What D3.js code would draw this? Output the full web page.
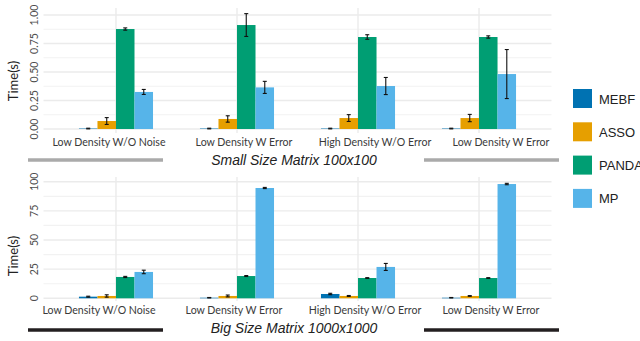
<!DOCTYPE html>
<html><head><meta charset="utf-8">
<script src="https://cdn.jsdelivr.net/npm/d3@7"></script>
<style>body{margin:0;background:#fff}svg{display:block}</style>
</head><body>
<svg id="c" width="640" height="341"></svg>
<script>
const categories = ["Low Density W/O Noise","Low Density W Error","High Density W/O Error","Low Density W Error "];
const series = ["MEBF","ASSO","PANDA","MP"];
const colors = ["#0072B2","#E69F00","#009E73","#56B4E9"];

// Small Size Matrix 100x100
const smallMEBF = [0.004,0.004,0.004,0.004];
const smallMEBFErr = [0.003,0.003,0.003,0.003];
const smallASSO = [0.070,0.088,0.096,0.096];
const smallASSOErr = [0.030,0.028,0.030,0.032];
const smallPANDA = [0.877,0.912,0.807,0.807];
const smallPANDAErr = [0.010,0.100,0.020,0.010];
const smallMP = [0.325,0.365,0.377,0.482];
const smallMPErr = [0.022,0.053,0.075,0.215];

// Big Size Matrix 1000x1000
const bigMEBF = [1.4,0.5,3.7,0.5];
const bigMEBFErr = [0.4,0.2,0.6,0.2];
const bigASSO = [2.0,2.0,2.0,2.0];
const bigASSOErr = [1.0,0.8,0.4,0.3];
const bigPANDA = [18.3,19.1,17.4,17.4];
const bigPANDAErr = [0.5,0.4,0.3,0.3];
const bigMP = [22.6,94.6,26.9,98.0];
const bigMPErr = [1.5,0.5,3.0,0.6];

const smallTicks = [0,0.25,0.5,0.75,1.0];
const smallTickLabels = ["0.00","0.25","0.50","0.75","1.00"];
const bigTicks = [0,25,50,75,100];
const bigTickLabels = ["0","25","50","75","100"];

const svg = d3.select("#c");
const x = d3.scaleBand().domain(categories).range([43.5,551.5]).paddingInner(0.388).paddingOuter(0.293);
const xs = d3.scaleBand().domain(series).range([0,x.bandwidth()]);
const color = d3.scaleOrdinal().domain(series).range(colors);

function panel(cfg){
  const g = svg.append("g");
  const y = d3.scaleLinear().domain(cfg.domain).range(cfg.range);
  const minor = [];
  for(let i=0;i<cfg.ticks.length-1;i++) minor.push((cfg.ticks[i]+cfg.ticks[i+1])/2);
  // grid
  g.selectAll(".mn").data(minor).join("line")
    .attr("x1",43.5).attr("x2",551.5).attr("y1",d=>y(d)).attr("y2",d=>y(d))
    .attr("stroke","#f2f2f2").attr("stroke-width",1.2);
  g.selectAll(".mj").data(cfg.ticks).join("line")
    .attr("x1",43.5).attr("x2",551.5).attr("y1",d=>y(d)).attr("y2",d=>y(d))
    .attr("stroke","#ebebeb").attr("stroke-width",1.4);
  g.selectAll(".vg").data(categories).join("line")
    .attr("x1",d=>x(d)+x.bandwidth()/2).attr("x2",d=>x(d)+x.bandwidth()/2)
    .attr("y1",cfg.top).attr("y2",cfg.bottom)
    .attr("stroke","#ebebeb").attr("stroke-width",1.4);
  // bars
  const rows = [];
  categories.forEach((c,i)=>series.forEach((s,j)=>rows.push({c,s,v:cfg.values[j][i],e:cfg.errors[j][i]})));
  g.selectAll(".bar").data(rows).join("rect")
    .attr("x",d=>x(d.c)+xs(d.s)).attr("width",xs.bandwidth())
    .attr("y",d=>y(d.v)).attr("height",d=>y(0)-y(d.v))
    .attr("fill",d=>color(d.s));
  const eb = g.selectAll(".eb").data(rows).join("g")
    .attr("transform",d=>`translate(${x(d.c)+xs(d.s)+xs.bandwidth()/2},0)`);
  eb.append("line").attr("y1",d=>y(d.v-d.e)).attr("y2",d=>y(d.v+d.e)).attr("stroke","#111").attr("stroke-width",1.1);
  eb.append("line").attr("x1",-2).attr("x2",2).attr("y1",d=>y(d.v-d.e)).attr("y2",d=>y(d.v-d.e)).attr("stroke","#111").attr("stroke-width",1.1);
  eb.append("line").attr("x1",-2).attr("x2",2).attr("y1",d=>y(d.v+d.e)).attr("y2",d=>y(d.v+d.e)).attr("stroke","#111").attr("stroke-width",1.1);
  // y axis
  const ya = g.append("g").attr("transform","translate(41,0)")
    .call(d3.axisLeft(y).tickValues(cfg.ticks).tickFormat((d,i)=>cfg.tickLabels[i]).tickSize(0).tickPadding(0));
  ya.select(".domain").remove();
  ya.selectAll("text").attr("transform",null).attr("x",null).attr("dy",null)
    .attr("font-family","Lato, sans-serif").attr("font-size",10.5).attr("fill","#4d4d4d")
    .attr("text-anchor","middle")
    .attr("transform",d=>`translate(-3,${y(d)}) rotate(-90)`).attr("y",0);
  ya.selectAll(".tick").attr("transform",null);
  // x axis (labels nudged as in the source figure)
  const xa = g.append("g").attr("transform",`translate(0,${cfg.xlab})`)
    .call(d3.axisBottom(x).tickSize(0).tickPadding(0));
  xa.select(".domain").remove();
  xa.selectAll("text").attr("dy",null).attr("y",0)
    .attr("dx",(d,i)=>cfg.labelNudge[i])
    .attr("font-family","Lato, sans-serif").attr("font-size",10.6).attr("fill","#3a3a3a");
  // y title
  g.append("text").attr("transform",`translate(18,${cfg.ytitle}) rotate(-90)`)
    .attr("text-anchor","middle").attr("font-family","Lato, sans-serif").attr("font-size",13).attr("fill","#222")
    .text("Time(s)");
  // title & bars
  g.append("text").attr("x",294).attr("y",cfg.titleY).attr("text-anchor","middle")
    .attr("font-family","Liberation Sans, Arial, sans-serif").attr("font-style","italic").attr("font-size",14).attr("fill","#222")
    .text(cfg.title);
  [[28,163],[424,559]].forEach(([a,b])=>g.append("line").attr("x1",a).attr("x2",b)
    .attr("y1",cfg.lineY).attr("y2",cfg.lineY).attr("stroke",cfg.lineColor).attr("stroke-width",3.3));
}

panel({domain:[0,1],range:[129,15],top:8,bottom:133,ticks:smallTicks,tickLabels:smallTickLabels,
  values:[smallMEBF,smallASSO,smallPANDA,smallMP],errors:[smallMEBFErr,smallASSOErr,smallPANDAErr,smallMPErr],
  labelNudge:[-7,7,17,22],
  xlab:146,ytitle:81,title:"Small Size Matrix 100x100",titleY:165,lineY:160,lineColor:"#aaaaaa"});
panel({domain:[0,100],range:[298.3,181.7],top:177,bottom:301,ticks:bigTicks,tickLabels:bigTickLabels,
  values:[bigMEBF,bigASSO,bigPANDA,bigMP],errors:[bigMEBFErr,bigASSOErr,bigPANDAErr,bigMPErr],
  labelNudge:[-17,-3,7,12],
  xlab:314,ytitle:256,title:"Big Size Matrix 1000x1000",titleY:333,lineY:330,lineColor:"#231f20"});

// legend
const lg = svg.append("g").attr("transform","translate(573,89)");
const li = lg.selectAll("g").data(series).join("g").attr("transform",(d,i)=>`translate(0,${i*33.3})`);
li.append("rect").attr("width",19).attr("height",19).attr("fill",d=>color(d));
li.append("text").attr("x",26).attr("y",14.5).attr("font-family","Liberation Sans, Arial, sans-serif")
  .attr("font-size",13).attr("fill","#222").text(d=>d);
</script>
</body></html>
